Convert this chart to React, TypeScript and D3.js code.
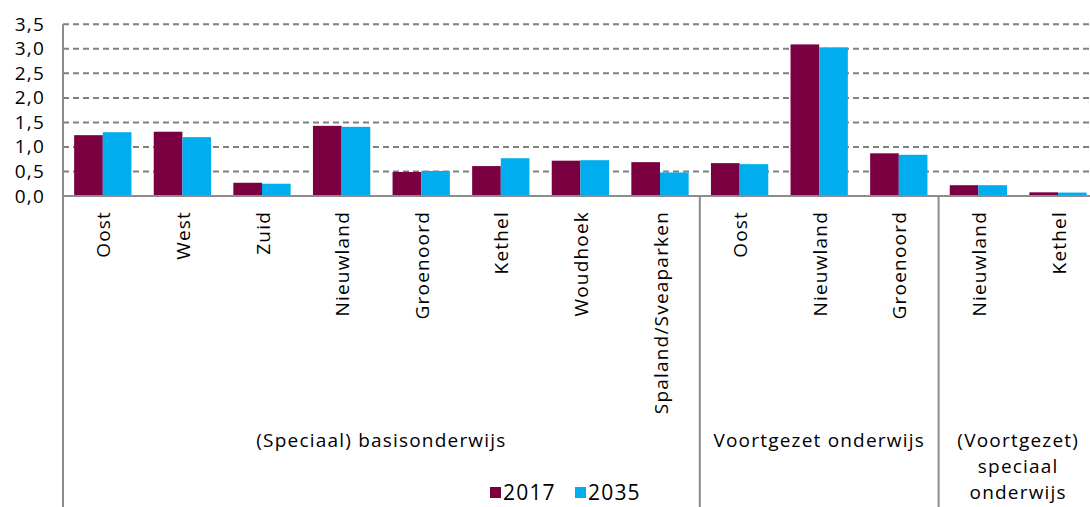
import React from "react";
import * as d3 from "d3";

const categories = ["Oost", "West", "Zuid", "Nieuwland", "Groenoord", "Kethel", "Woudhoek", "Spaland/Sveaparken", "Oost", "Nieuwland", "Groenoord", "Nieuwland", "Kethel"];
const values2017 = [1.24, 1.31, 0.27, 1.43, 0.49, 0.61, 0.72, 0.69, 0.67, 3.09, 0.87, 0.22, 0.075];
const values2035 = [1.30, 1.20, 0.25, 1.41, 0.51, 0.77, 0.73, 0.48, 0.65, 3.03, 0.84, 0.22, 0.07];
const groups = [
  { lines: ["(Speciaal) basisonderwijs"], start: 0, end: 8 },
  { lines: ["Voortgezet onderwijs"], start: 8, end: 11 },
  { lines: ["(Voortgezet)", "speciaal", "onderwijs"], start: 11, end: 13 },
];
const yTicks = [0, 0.5, 1, 1.5, 2, 2.5, 3, 3.5];
const seriesNames = ["2017", "2035"];
const colors = ["#7B0041", "#00AEEF"];

const W = 1090, H = 507;
const left = 63, top = 24.3, base = 196;
const catW = 79.6;

export default function App() {
  const x = d3.scaleBand<number>().domain(d3.range(categories.length)).range([left, left + catW * categories.length]).paddingInner(0).paddingOuter(0);
  const y = d3.scaleLinear().domain([0, 3.5]).range([base, top]);
  const barW = catW * 0.36;
  const fmt = (v: number) => d3.format(".1f")(v).replace(".", ",");
  const font = "'Open Sans', sans-serif";
  const fs = 19;
  const ls = 1.2;
  return (
    <svg width={W} height={H} style={{ position: "absolute", left: 0, top: 0, background: "#fff" }} fontFamily={font}>
      {yTicks.filter(t => t > 0).map(t => (
        <line key={t} x1={left} x2={W} y1={y(t)} y2={y(t)} stroke="#808080" strokeWidth={2} strokeDasharray="6,4" />
      ))}
      {categories.map((c, i) => {
        const cx = x(i)! + catW / 2;
        return (
          <g key={i}>
            <rect x={cx - barW} y={y(values2017[i])} width={barW} height={base - y(values2017[i])} fill={colors[0]} />
            <rect x={cx} y={y(values2035[i])} width={barW} height={base - y(values2035[i])} fill={colors[1]} />
            <text transform={`translate(${cx + 7.5},211) rotate(-90)`} textAnchor="end" fontSize={fs} letterSpacing={ls} fill="#000">{c}</text>
          </g>
        );
      })}
      <line x1={left} x2={W} y1={base} y2={base} stroke="#8c8c8c" strokeWidth={2} />
      <line x1={left} x2={left} y1={top} y2={H} stroke="#8c8c8c" strokeWidth={2} />
      {groups.slice(1).map((g, i) => (
        <line key={i} x1={x(g.start)!} x2={x(g.start)!} y1={base} y2={H} stroke="#8c8c8c" strokeWidth={2} />
      ))}
      {yTicks.map(t => (
        <text key={t} x={45} y={y(t) + 6.5} textAnchor="end" fontSize={fs} letterSpacing={ls} fill="#000">{fmt(t)}</text>
      ))}
      {groups.map((g, i) => {
        const cx = (x(g.start)! + Math.min(x(g.end - 1)! + catW, 1098)) / 2;
        const start = 447;
        return (
          <text key={i} textAnchor="middle" fontSize={fs} letterSpacing={ls} fill="#000">
            {g.lines.map((l, j) => (
              <tspan key={j} x={cx} y={start + j * 26}>{l}</tspan>
            ))}
          </text>
        );
      })}
      {seriesNames.map((s, i) => (
        <g key={s} transform={`translate(${490 + i * 85},487)`}>
          <rect x={0} y={0} width={11} height={11} fill={colors[i]} />
          <text x={13} y={13} fontSize={21} letterSpacing={1.2} fill="#000">{s}</text>
        </g>
      ))}
    </svg>
  );
}
